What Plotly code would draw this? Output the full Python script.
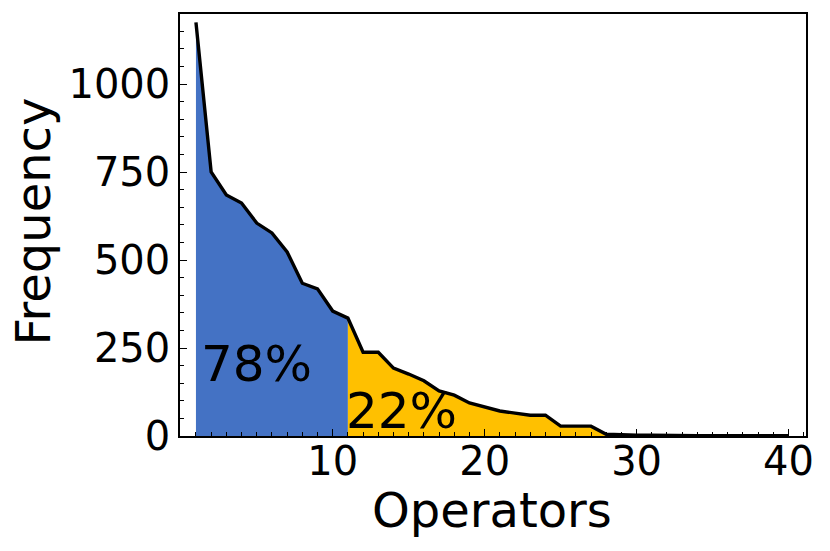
import plotly.graph_objects as go

operators = list(range(1, 41))
frequency = [1175, 750, 685, 662, 605, 577, 523, 434, 418, 355,
             335, 238, 238, 193, 176, 157, 128, 116, 94, 82,
             71, 65, 59, 59, 28, 28, 28, 5, 3, 2,
             2, 1, 1, 1, 1, 1, 1, 1, 1, 1]
split_at = 11
labels = ["78%", "22%"]
colors = ["#4472C4", "#FFC000"]
x_title = "Operators"
y_title = "Frequency"

i = operators.index(split_at)
x_head, y_head = operators[:i + 1], frequency[:i + 1]
x_tail, y_tail = operators[i:], frequency[i:]

fig = go.Figure()
fig.add_trace(go.Scatter(x=x_head, y=y_head, fill="tozeroy", mode="none",
                         fillcolor=colors[0], showlegend=False))
fig.add_trace(go.Scatter(x=x_tail, y=y_tail, fill="tozeroy", mode="none",
                         fillcolor=colors[1], showlegend=False))
fig.add_trace(go.Scatter(x=operators, y=frequency, mode="lines",
                         line=dict(color="black", width=3.4), showlegend=False))

font_family = "DejaVu Sans"
fig.add_annotation(x=1.2, y=205, text=labels[0], showarrow=False,
                   xanchor="left", yanchor="middle",
                   font=dict(family=font_family, size=50, color="black"))
fig.add_annotation(x=10.75, y=70, text=labels[1], showarrow=False,
                   xanchor="left", yanchor="middle",
                   font=dict(family=font_family, size=50, color="black"))
fig.add_annotation(x=0.498, y=-0.175, xref="paper", yref="paper",
                   text=x_title, showarrow=False,
                   xanchor="center", yanchor="middle",
                   font=dict(family=font_family, size=48, color="black"))
fig.add_annotation(x=-0.234, y=0.507, xref="paper", yref="paper",
                   text=y_title, showarrow=False, textangle=-90,
                   xanchor="center", yanchor="middle",
                   font=dict(family=font_family, size=48, color="black"))

# page body has an 8px default margin; offsets compensate for it
fig.update_layout(
    width=830, height=551,
    margin=dict(l=172, r=32, t=6, b=123),
    paper_bgcolor="white", plot_bgcolor="white",
    font=dict(family=font_family, color="black"),
)
fig.update_xaxes(
    range=[-0.05, 41.15], tickvals=[10, 20, 30, 40],
    ticks="inside", ticklen=7, tickwidth=1.2, tickcolor="black",
    minor=dict(dtick=1, tick0=0, ticks="inside", ticklen=4, tickcolor="black"),
    tickfont=dict(size=40), showgrid=False, zeroline=False,
    showline=True, linecolor="black", linewidth=1.5, mirror=True,
    automargin=False, ticklabelstandoff=-11,
)
fig.update_yaxes(
    range=[0, 1199], tickvals=[0, 250, 500, 750, 1000],
    ticks="inside", ticklen=7, tickwidth=1.2, tickcolor="black",
    minor=dict(dtick=50, tick0=0, ticks="inside", ticklen=4, tickcolor="black"),
    tickfont=dict(size=40), showgrid=False, zeroline=False,
    showline=True, linecolor="black", linewidth=1.5, mirror=True,
    automargin=False,
)

fig.write_html("out.html")
